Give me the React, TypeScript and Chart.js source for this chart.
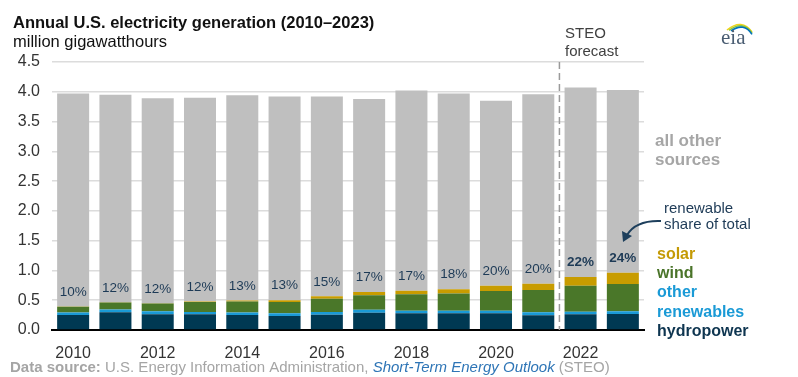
import { useEffect, useRef } from 'react';
import { Chart, registerables } from 'chart.js';

Chart.register(...registerables);

const years = ['2010', '2011', '2012', '2013', '2014', '2015', '2016', '2017', '2018', '2019', '2020', '2021', '2022', '2023'];
const hydropower = [0.25, 0.3, 0.263, 0.263, 0.25, 0.235, 0.257, 0.29, 0.28, 0.28, 0.28, 0.246, 0.263, 0.27];
const otherRenewables = [0.045, 0.045, 0.05, 0.04, 0.045, 0.045, 0.045, 0.05, 0.044, 0.044, 0.044, 0.05, 0.045, 0.045];
const wind = [0.096, 0.117, 0.13, 0.168, 0.185, 0.19, 0.223, 0.245, 0.275, 0.29, 0.33, 0.374, 0.436, 0.458];
const solar = [0.002, 0.003, 0.005, 0.009, 0.015, 0.03, 0.04, 0.055, 0.06, 0.072, 0.09, 0.106, 0.146, 0.19];
const totalGeneration = [3.97, 3.95, 3.89, 3.9, 3.94, 3.92, 3.92, 3.88, 4.02, 3.97, 3.85, 3.96, 4.07, 4.03];
const renewableShare = [10, 12, 12, 12, 13, 13, 15, 17, 17, 18, 20, 20, 22, 24];
const forecastYears = ['2022', '2023'];
const yTicks = [0, 0.5, 1, 1.5, 2, 2.5, 3, 3.5, 4, 4.5];

const allOther = totalGeneration.map((t, i) => t - hydropower[i] - otherRenewables[i] - wind[i] - solar[i]);

const FONT = '"Liberation Sans", Arial, sans-serif';

const annotations = {
  id: 'annotations',
  afterDraw(chart: any) {
    const ctx = chart.ctx as CanvasRenderingContext2D;
    const xs = chart.scales.x;
    const ys = chart.scales.y;
    ctx.save();

    // forecast divider
    const xDiv = (xs.getPixelForValue(11) + xs.getPixelForValue(12)) / 2;
    ctx.strokeStyle = '#9a9a9a';
    ctx.lineWidth = 1.5;
    ctx.setLineDash([7, 4]);
    ctx.beginPath();
    ctx.moveTo(xDiv, ys.getPixelForValue(4.5));
    ctx.lineTo(xDiv, ys.getPixelForValue(0));
    ctx.stroke();
    ctx.setLineDash([]);

    // renewable share labels
    const solarMeta = chart.getDatasetMeta(3);
    ctx.textAlign = 'center';
    ctx.textBaseline = 'middle';
    ctx.fillStyle = '#1d3a56';
    renewableShare.forEach((v, i) => {
      const el = solarMeta.data[i];
      const bold = forecastYears.includes(years[i]);
      ctx.font = `${bold ? 'bold ' : ''}13.5px ${FONT}`;
      ctx.fillText(`${v}%`, el.x, el.y - 14.5);
    });

    ctx.textAlign = 'left';
    ctx.textBaseline = 'middle';

    // titles
    ctx.fillStyle = '#111';
    ctx.font = `bold 16.5px ${FONT}`;
    ctx.fillText('Annual U.S. electricity generation (2010\u20132023)', 13, 23);
    ctx.font = `16.5px ${FONT}`;
    ctx.fillText('million gigawatthours', 13, 42);

    // STEO forecast
    ctx.fillStyle = '#404040';
    ctx.font = `15px ${FONT}`;
    ctx.fillText('STEO', 565, 34);
    ctx.fillText('forecast', 565, 52);

    // all other sources
    ctx.fillStyle = '#a6a6a6';
    ctx.font = `bold 17px ${FONT}`;
    ctx.fillText('all other', 655, 141);
    ctx.fillText('sources', 655, 160);

    // renewable share of total
    ctx.fillStyle = '#1d3a56';
    ctx.font = `15px ${FONT}`;
    ctx.fillText('renewable', 664, 209);
    ctx.fillText('share of total', 664, 225);

    // arrow
    ctx.strokeStyle = '#1d3f5c';
    ctx.fillStyle = '#1d3f5c';
    ctx.lineWidth = 2;
    ctx.beginPath();
    ctx.moveTo(661, 221);
    ctx.quadraticCurveTo(636, 220, 627, 235);
    ctx.stroke();
    ctx.beginPath();
    ctx.moveTo(623, 242);
    ctx.lineTo(622, 231);
    ctx.lineTo(632, 236);
    ctx.closePath();
    ctx.fill();

    // legend
    ctx.font = `bold 16px ${FONT}`;
    const legend: [string, string, number][] = [
      ['solar', '#c49a06', 255],
      ['wind', '#4a7429', 274],
      ['other', '#1a9ad6', 293],
      ['renewables', '#1a9ad6', 313],
      ['hydropower', '#0e3550', 332],
    ];
    legend.forEach(([t, c, y]) => {
      ctx.fillStyle = c;
      ctx.fillText(t, 657, y);
    });

    // source line
    let x = 10;
    const y = 368;
    ctx.fillStyle = '#a5a5a5';
    ctx.font = `bold 15px ${FONT}`;
    ctx.fillText('Data source:', x, y);
    x += ctx.measureText('Data source: ').width;
    ctx.font = `15px ${FONT}`;
    const p1 = 'U.S. Energy Information Administration, ';
    ctx.fillText(p1, x, y);
    x += ctx.measureText(p1).width;
    ctx.fillStyle = '#2e75b6';
    ctx.font = `italic 15px ${FONT}`;
    const p2 = 'Short-Term Energy Outlook';
    ctx.fillText(p2, x, y);
    x += ctx.measureText(p2).width;
    ctx.fillStyle = '#a5a5a5';
    ctx.font = `15px ${FONT}`;
    ctx.fillText(' (STEO)', x, y);

    // eia logo
    ctx.lineWidth = 1.6;
    const arcs: [string, number][] = [['#f1d417', 0], ['#8cc63f', 2], ['#0072bc', 4]];
    arcs.forEach(([c, d]) => {
      ctx.strokeStyle = c;
      ctx.beginPath();
      ctx.moveTo(727 + d, 30 + d * 0.2);
      ctx.quadraticCurveTo(742 + d * 0.5, 18 + d, 752, 32 + d * 0.6);
      ctx.stroke();
    });
    ctx.fillStyle = '#4a5d72';
    ctx.font = `21px "Liberation Serif", "DejaVu Serif", serif`;
    ctx.textBaseline = 'alphabetic';
    ctx.fillText('eia', 721, 44);

    ctx.restore();
  },
};

export default function App() {
  const ref = useRef<HTMLCanvasElement | null>(null);
  useEffect(() => {
    if (!ref.current) return;
    const common = {
      stack: 's',
      categoryPercentage: 1,
      barPercentage: 0.757,
      borderWidth: 0,
    };
    const chart = new Chart(ref.current, {
      type: 'bar',
      data: {
        labels: years,
        datasets: [
          { label: 'hydropower', data: hydropower, backgroundColor: '#003953', ...common },
          { label: 'other renewables', data: otherRenewables, backgroundColor: '#1a9ad6', ...common },
          { label: 'wind', data: wind, backgroundColor: '#4a7729', ...common },
          { label: 'solar', data: solar, backgroundColor: '#c89c00', ...common },
          { label: 'all other sources', data: allOther, backgroundColor: '#bfbfbf', ...common },
        ],
      },
      options: {
        responsive: false,
        animation: false,
        devicePixelRatio: 1,
        layout: { padding: { left: 0, top: 62, right: 154, bottom: 0 } },
        plugins: { legend: { display: false }, tooltip: { enabled: false }, title: { display: false } },
        scales: {
          x: {
            stacked: true,
            grid: { display: false, drawTicks: false },
            border: { display: true, color: '#000', width: 2 },
            ticks: {
              autoSkip: false,
              maxRotation: 0,
              padding: 14,
              color: '#333',
              font: { family: FONT, size: 16 },
              callback: (_v: any, i: number) => (i % 2 === 0 ? years[i] : ''),
            },
            afterFit: (s: any) => { s.height = 47; },
          },
          y: {
            stacked: true,
            min: 0,
            max: 4.5,
            afterBuildTicks: (s: any) => { s.ticks = yTicks.map((v) => ({ value: v })); },
            grid: { color: '#dcdcdc', lineWidth: 1.5, drawTicks: false },
            border: { display: false },
            ticks: {
              padding: 12,
              color: '#333',
              font: { family: FONT, size: 16 },
              callback: (v: any) => Number(v).toFixed(1),
            },
            afterFit: (s: any) => { s.width = 52; },
          },
        },
      },
      plugins: [annotations],
    });
    return () => chart.destroy();
  }, []);
  return (
    <div style={{ position: 'absolute', left: 0, top: 0, width: 798, height: 377, background: '#fff' }}>
      <canvas ref={ref} width={798} height={377} />
    </div>
  );
}
